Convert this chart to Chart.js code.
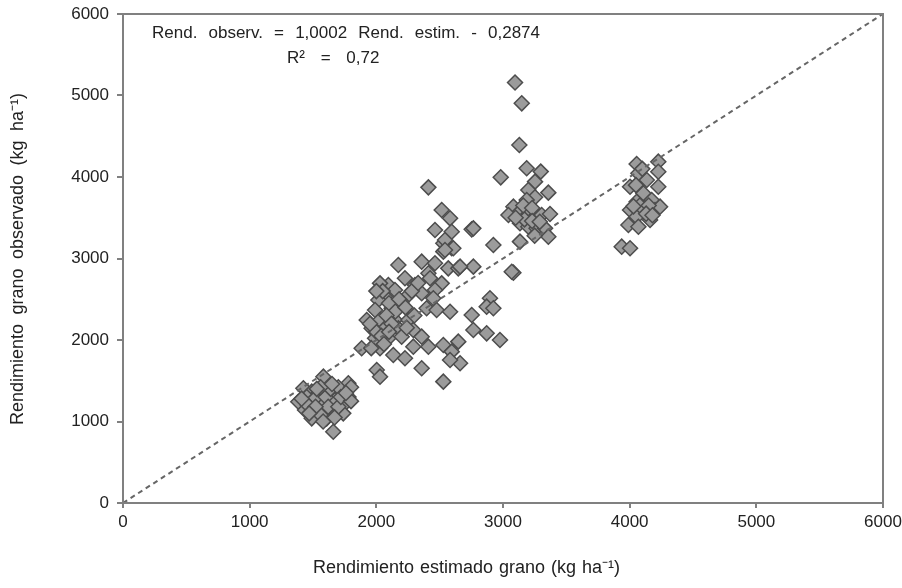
<!DOCTYPE html>
<html>
<head>
<meta charset="utf-8">
<script src="https://cdn.jsdelivr.net/npm/chart.js@4.4.1/dist/chart.umd.min.js"></script>
<style>
  html, body { margin: 0; padding: 0; background: #fff; }
  #wrap { width: 902px; height: 588px; position: relative; }
</style>
</head>
<body>
<div id="wrap"><canvas id="c" width="902" height="588"></canvas></div>
<script>
// Estimated grain yield (kg ha-1) -- x values
const estimated = [
  // lower-left group
  1779,1621,1582,1424,1490,1687,1542,1384,1503,1582,1674,1753,1437,1542,1648,1739,1490,1608,1660,
  1450,1520,1600,1640,1700,1560,1460,1620,1700,1780,1800,1560,1520,1410,1650,1720,1580,1470,1800,1530,1670,1760,
  // middle group
  2924,2529,2595,2529,2174,2358,2463,2568,2647,2766,2411,2424,2226,2305,2095,2029,2516,2147,2068,2253,2358,2463,
  2016,2200,2450,1990,2121,2397,2476,2582,2897,2871,2924,2753,1924,2029,2147,2253,1963,2068,2174,2292,2358,2766,
  2871,2976,1990,2095,2200,1884,2029,2292,2411,2529,2647,2595,2134,2226,2661,2582,2003,2029,2358,2529,
  2411,2516,2582,2463,2595,2753,2542,2608,2542,3082,2661,
  2050,2100,2000,2150,2080,1950,2120,2040,2180,2230,2000,2100,2060,1960,2240,2300,2280,2330,
  // upper group around 3000-3400
  3095,3148,3129,2982,3187,3298,3253,3358,3200,3253,3187,3082,3134,3200,3043,3265,3305,3371,3134,3200,3265,3332,
  3358,3134,3069,2766,3160,3230,3170,3230,3290,3100,3250,
  // right group around 4000-4250
  4055,4226,4226,4069,4135,4003,4226,4108,4055,4174,4003,4108,4200,4240,4055,4161,3990,4069,3937,4003,
  4080,4150,4030,4130,4180,4100,4050
];
// Observed grain yield (kg ha-1) -- y values
const observed = [
  1469,1469,1550,1407,1366,1346,1346,1243,1243,1223,1264,1223,1141,1141,1120,1100,1039,1039,875,
  1300,1290,1300,1400,1420,1420,1200,1180,1180,1300,1420,1080,1180,1280,1460,1300,1000,1100,1250,1400,1050,1350,
  3166,3186,3125,3084,2920,2961,2941,2879,2879,2900,2818,2757,2757,2675,2675,2695,2695,2614,2531,2552,2573,2614,
  2491,2470,2512,2368,2389,2389,2368,2347,2512,2409,2389,2307,2245,2245,2245,2245,2143,2143,2143,2122,2041,2122,
  2082,2000,2021,2021,2041,1898,1898,1918,1918,1939,1980,1857,1816,1776,1714,1755,1632,1550,1653,1489,
  3873,3595,3493,3350,3329,3358,3227,3125,3104,2826,2900,
  2600,2450,2100,2350,2300,2200,2200,2050,2500,2400,2600,2100,1950,1900,2150,2300,2600,2700,
  5160,4904,4393,3996,4107,4066,3943,3808,3841,3751,3718,3636,3575,3546,3534,3534,3534,3546,3432,3390,3370,3370,
  3268,3207,2838,3370,3650,3620,3480,3460,3450,3500,3280,
  4160,4188,4065,4045,3963,3881,3881,3800,3697,3718,3595,3595,3595,3636,3513,3472,3411,3390,3145,3125,
  3650,3650,3640,3550,3530,4100,3900
];
// Regression: observed = slope * estimated + intercept
const slope = 1.0002;
const intercept = -0.2874;
const lineX = [0, 6000];
const tickValues = [0, 1000, 2000, 3000, 4000, 5000, 6000];
const equationText = "Rend. observ. = 1,0002 Rend. estim. - 0,2874";
const r2Text = "R\u00B2 = 0,72";
const xTitle = "Rendimiento estimado grano (kg ha\u207B\u00B9)";
const yTitle = "Rendimiento grano observado (kg ha\u207B\u00B9)";

const FONT = "'Liberation Sans', Arial, sans-serif";
const points = estimated.map((x, i) => ({ x: x, y: observed[i] }));
const regLine = lineX.map(x => ({ x: x, y: slope * x + intercept }));

function drawSpaced(ctx, text, x, y, extra) {
  const spaceW = ctx.measureText(' ').width;
  text.split(' ').forEach(w => {
    ctx.fillText(w, x, y);
    x += ctx.measureText(w).width + spaceW + extra;
  });
}
function extraFor(ctx, text, target) {
  const n = text.split(' ').length - 1;
  return Math.max(0, (target - ctx.measureText(text).width) / n);
}

const textPlugin = {
  id: 'texts',
  afterDraw(chart) {
    const { ctx, chartArea: a } = chart;
    ctx.save();
    ctx.strokeStyle = '#808080';
    ctx.lineWidth = 2;
    ctx.strokeRect(a.left, a.top, a.right - a.left, a.bottom - a.top);
    ctx.fillStyle = '#222';
    ctx.font = "17px " + FONT;
    ctx.textBaseline = 'middle';
    ctx.textAlign = 'left';
    // regression equation
    drawSpaced(ctx, equationText, a.left + 29, 33, extraFor(ctx, equationText, 388));
    drawSpaced(ctx, r2Text, a.left + 164, 58, 11);
    // axis titles
    ctx.font = "18px " + FONT;
    drawSpaced(ctx, xTitle, 313, 568, extraFor(ctx, xTitle, 307));
    ctx.translate(18, 259);
    ctx.rotate(-Math.PI / 2);
    drawSpaced(ctx, yTitle, -166, 0, extraFor(ctx, yTitle, 332));
    ctx.restore();
  }
};

new Chart(document.getElementById('c'), {
  type: 'scatter',
  data: {
    datasets: [
      {
        type: 'line',
        data: regLine,
        borderColor: '#666',
        borderWidth: 2,
        borderDash: [5, 4],
        pointRadius: 0,
        fill: false,
        order: 0
      },
      {
        data: points,
        pointStyle: 'rectRot',
        pointRadius: 7.5,
        pointBackgroundColor: '#9b9b9b',
        pointBorderColor: '#4d4d4d',
        pointBorderWidth: 1.5,
        order: 1
      }
    ]
  },
  options: {
    responsive: false,
    animation: false,
    layout: { padding: { top: 14, right: 19, left: 0, bottom: 0 } },
    plugins: { legend: { display: false }, tooltip: { enabled: false } },
    scales: {
      x: {
        type: 'linear',
        min: 0, max: 6000,
        afterBuildTicks: s => { s.ticks = tickValues.map(v => ({ value: v })); },
        afterFit: s => { s.height = 85; s.paddingLeft = 0; s.paddingRight = 0; },
        grid: { drawOnChartArea: false, drawTicks: true, tickLength: 5, color: '#808080', lineWidth: 2 },
        border: { display: true, color: '#808080', width: 2 },
        ticks: { color: '#222', font: { family: FONT, size: 17 }, padding: 4, callback: v => String(v) },
        title: { display: false }
      },
      y: {
        type: 'linear',
        min: 0, max: 6000,
        afterBuildTicks: s => { s.ticks = tickValues.map(v => ({ value: v })); },
        afterFit: s => { s.width = 123; s.paddingTop = 0; s.paddingBottom = 0; },
        grid: { drawOnChartArea: false, drawTicks: true, tickLength: 6, color: '#808080', lineWidth: 2 },
        border: { display: true, color: '#808080', width: 2 },
        ticks: { color: '#222', font: { family: FONT, size: 17 }, padding: 8, callback: v => String(v) },
        title: { display: false }
      }
    }
  },
  plugins: [textPlugin]
});
</script>
</body>
</html>
